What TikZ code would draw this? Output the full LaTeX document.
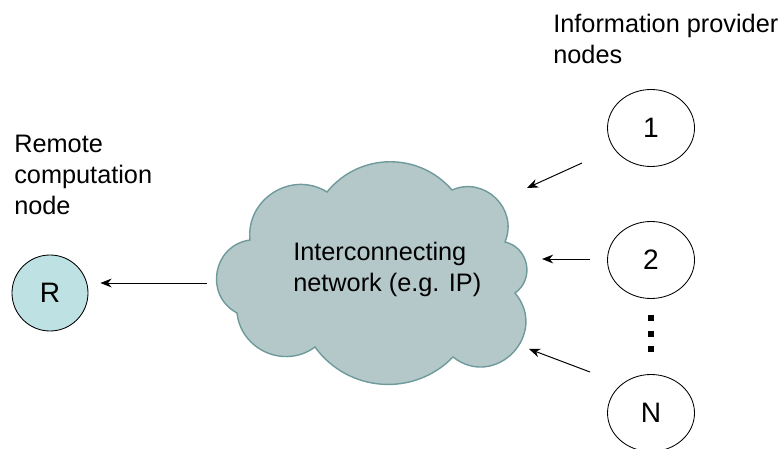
\documentclass[tikz,border=0pt]{standalone}
\usepackage{fontspec}
\setmainfont{Liberation Sans}
\usetikzlibrary{shapes.geometric,arrows.meta}

\definecolor{cloudfill}{HTML}{B5C8C9}
\definecolor{cloudline}{HTML}{6F9A9B}
\definecolor{remotefill}{HTML}{BEE1E4}

\tikzset{
  provider/.style={draw,ellipse,minimum width=2.175cm,minimum height=1.925cm,inner sep=0pt,line width=0.6pt,font=\fontsize{20}{24}\selectfont},
  remote/.style={draw,circle,minimum size=1.9cm,inner sep=0pt,fill=remotefill,line width=0.6pt,font=\fontsize{20}{24}\selectfont},
  note/.style={align=left,inner sep=0pt,anchor=north west},
  flow/.style={-{Stealth[length=0.28cm,width=0.22cm]},line width=0.7pt},
  dotmark/.style={fill,minimum size=0.13cm,inner sep=0pt}
}

\begin{document}
\begin{tikzpicture}[font=\fontsize{18}{22}\selectfont]
  \useasboundingbox (0,0) rectangle (19.525,11.2);

  % the network cloud
  \path[draw=cloudline,fill=cloudfill,line width=1pt]
    (5.925,3.375) to[bend right=60,looseness=1.13] (7.875,2.525)
    to[bend right=50,looseness=1.04] (11.325,2.275)
    to[bend right=84,looseness=1.54] (12.875,3.875)
    to[bend right=66,looseness=1.2] (12.625,5.15)
    to[bend right=68,looseness=1.23] (11.3,6.45)
    to[bend right=50,looseness=1.04] (8.175,6.4)
    to[bend right=64,looseness=1.17] (6.25,5.2)
    to[bend right=72,looseness=1.3] (5.925,3.375) -- cycle;

  \node[note] (net) at (7.325,5.156) {Interconnecting\\network (e.g. IP)};
  \node[note] (remotetext) at (0.35,7.83) {Remote\\computation\\node};
  \node[note] (infotext) at (13.825,10.863) {Information provider\\nodes};

  \node[remote] (r) at (1.25,3.875) {R};
  \node[provider] (p1) at (16.275,8) {1};
  \node[provider] (p2) at (16.275,4.7) {2};
  \node[provider] (pn) at (16.275,0.875) {N};

  \foreach \y [count=\i] in {3.25,2.85,2.475}
    \node[dotmark] (dot\i) at (16.275,\y) {};

  \coordinate (s1) at (14.55,7.125);
  \coordinate (t1) at (13.175,6.5);
  \coordinate (s2) at (14.75,4.725);
  \coordinate (t2) at (13.55,4.725);
  \coordinate (sn) at (14.75,1.9);
  \coordinate (tn) at (13.225,2.475);
  \coordinate (sr) at (5.175,4.125);

  \draw[flow] (s1) -- (t1);
  \draw[flow] (s2) -- (t2);
  \draw[flow] (sn) -- (tn);
  \draw[flow] (sr) -- ([xshift=0.3cm]sr -| r.east);
\end{tikzpicture}
\end{document}
